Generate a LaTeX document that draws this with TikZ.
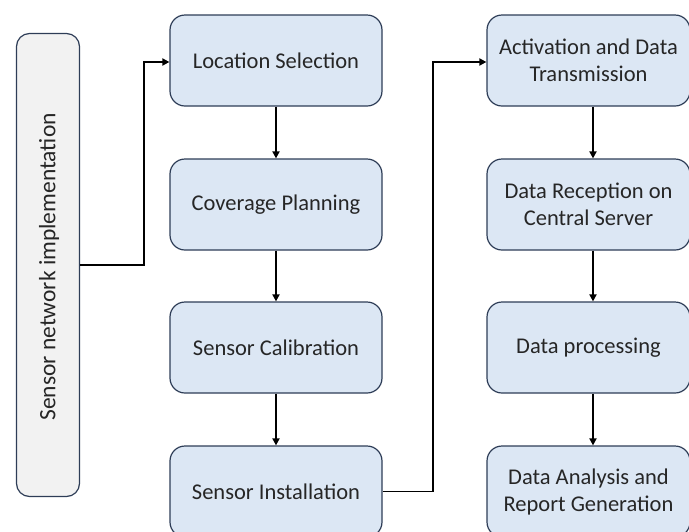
\documentclass[tikz,border=0pt]{standalone}
\usepackage{fontspec}
\setmainfont{Carlito}
\usetikzlibrary{arrows.meta}
\definecolor{boxfill}{HTML}{DCE7F4}
\definecolor{boxline}{HTML}{2E3D57}
\definecolor{sidefill}{HTML}{F2F2F2}
\definecolor{ink}{HTML}{262626}
\tikzset{
  stepbox/.style={draw=boxline, line width=1.2pt, fill=boxfill, rounded corners=15pt,
    minimum width=212pt, minimum height=91pt, align=center, inner sep=0pt,
    font=\fontsize{22.5}{27}\selectfont, text=ink},
  sidebox/.style={draw=boxline, line width=1.2pt, fill=sidefill, rounded corners=13pt,
    minimum width=63pt, minimum height=463pt, inner sep=0pt},
  flow/.style={draw=black, line width=1.8pt, -{Triangle[length=7pt,width=7pt]}},
}
\begin{document}
\begin{tikzpicture}[x=1pt,y=-1pt]
\useasboundingbox (0,0) rectangle (689,531);
\clip (0,0) rectangle (689,531);
% side panel
\node[sidebox] (side) at (48,265) {};
\node[rotate=90, font=\fontsize{23.5}{28}\selectfont, text=ink] (sidelabel) at (49,267) {Sensor network implementation};
% middle column
\node[stepbox] (loc) at (276,60.5) {Location Selection};
\node[stepbox] (cov) at (276,204.5) {Coverage Planning};
\node[stepbox] (cal) at (276,347.5) {Sensor Calibration};
\node[stepbox] (ins) at (276,491.5) {Sensor Installation};
% right column
\node[stepbox, minimum width=203pt] (act) at (588.5,60.5) {Activation and Data\\Transmission};
\node[stepbox, minimum width=203pt] (rec) at (588.5,204.5) {Data Reception on\\Central Server};
\node[stepbox, minimum width=203pt] (proc) at (588.5,347.5) {Data processing};
\node[stepbox, minimum width=203pt] (ana) at (588.5,491.5) {Data Analysis and\\Report Generation};
% connectors
\draw[flow] (side.east |- 0,265) -- (144,265) |- (loc.west |- 0,62);
\draw[flow] (ins.east) -- (433,491.5) |- (act.west |- 0,62);
\draw[flow] (loc) -- (cov);
\draw[flow] (cov) -- (cal);
\draw[flow] (cal) -- (ins);
\draw[flow] (act.south -| 593,0) -- (rec.north -| 593,0);
\draw[flow] (rec.south -| 593,0) -- (proc.north -| 593,0);
\draw[flow] (proc.south -| 593,0) -- (ana.north -| 593,0);
\end{tikzpicture}
\end{document}
